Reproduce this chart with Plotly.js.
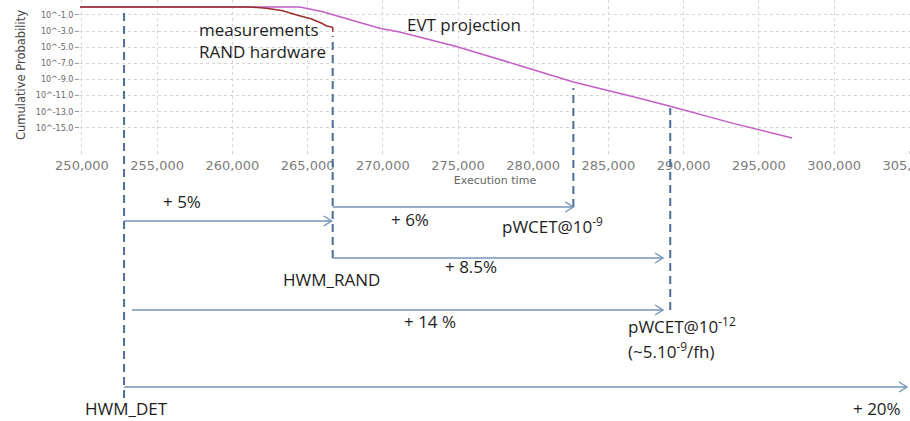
<!DOCTYPE html>
<html><head><meta charset="utf-8">
<script src="https://cdn.plot.ly/plotly-3.0.1.min.js"></script>
<style>html,body{margin:0;padding:0;background:#fff}#chart{width:910px;height:421px}</style>
</head><body><div id="chart"></div>
<script>
// ---- data ----
const measX = [249870, 261150, 262280, 263350, 264280, 265270, 265940, 266270, 266670, 266670];
const measY = [0, 0, -0.17, -0.47, -1.0, -1.5, -2.03, -2.37, -2.53, -3.07];
const evtX = [249870, 264480, 266000, 267800, 269790, 271120, 274900, 279080, 282670, 286590, 289110, 293230, 297210];
const evtY = [0, 0, -0.6, -1.55, -2.65, -3.1, -4.9, -7.25, -9.3, -11.1, -12.3, -14.4, -16.25];
const yTickVals = [-1, -3, -5, -7, -9, -11, -13, -15];
const yTickText = ['10^-1.0', '10^-3.0', '10^-5.0', '10^-7.0', '10^-9.0', '10^-11.0', '10^-13.0', '10^-15.0'];
const markerNames = ['HWM_DET', 'HWM_RAND', 'pWCET@10<sup>-9</sup>', 'pWCET@10<sup>-12</sup>'];
const markerNote = '(~5.10<sup>-9</sup>/fh)';
const markerX = [252800, 266670, 282670, 289110];
const arrowLabels = ['+ 5%', '+ 6%', '+ 8.5%', '+ 14 %', '+ 20%'];
const arrowFrom = [252800, 266670, 266670, 253330, 252800];
const arrowTo = [266600, 282670, 288630, 288630, 304850];

// ---- layout helpers (pixel -> paper) ----
const W = 910, H = 421, L = 80, PW = 830, PH = 150;
const py = p => (H - p) / H;
const px = p => (p - L) / PW;

const dashColor = '#4d6d99', arrowColor = '#7593bb', txtColor = '#1e1e1e';
const lblFont = {family: 'Open Sans, sans-serif', size: 17, color: txtColor};

// vertical dashed marker lines
const markerTopPx = [9, 36, 88, 108];
const markerBotPx = [398, 258, 207, 310];
const shapes = markerX.map((x, i) => ({
  type: 'line', xref: 'x', yref: 'paper', x0: x, x1: x,
  y0: py(markerBotPx[i]), y1: py(markerTopPx[i]),
  line: {color: dashColor, width: 2, dash: '8px,5px'}
}));

// arrows: shaft + open chevron head
const arrowYPx = [221, 207, 258, 310, 387];
arrowFrom.forEach((f, i) => {
  shapes.push({type: 'line', xref: 'x', yref: 'paper', x0: f, x1: arrowTo[i],
    y0: py(arrowYPx[i]), y1: py(arrowYPx[i]), line: {color: arrowColor, width: 1.4}});
  shapes.push({type: 'path', xref: 'x', yref: 'paper', xsizemode: 'pixel', ysizemode: 'pixel',
    xanchor: arrowTo[i], yanchor: py(arrowYPx[i]), path: 'M-8,5L0,0L-8,-5',
    line: {color: arrowColor, width: 1.4}});
});

const annotations = [];
const txt = (x, y, t, anchor) => annotations.push({xref: 'paper', yref: 'paper', x: px(x), y: py(y),
  text: t, showarrow: false, font: lblFont, xanchor: anchor || 'center', yanchor: 'middle', align: 'left'});
// arrow labels
const arrowLblPos = [[182, 201], [410, 220], [471, 266], [430, 321], [877, 408]];
arrowLabels.forEach((t, i) => txt(arrowLblPos[i][0], arrowLblPos[i][1], t));
// marker labels
const markerLblPos = [[126, 408, 'center'], [331, 279, 'center'], [500, 225, 'left'], [626, 325, 'left']];
markerNames.forEach((t, i) => txt(markerLblPos[i][0], markerLblPos[i][1], t, markerLblPos[i][2]));
txt(626, 350, markerNote, 'left');
// curve labels
txt(197, 29, 'measurements', 'left');
txt(197, 52, 'RAND hardware', 'left');
txt(405, 25, 'EVT projection', 'left');

const traces = [
  {x: evtX, y: evtY, type: 'scatter', mode: 'lines', name: 'EVT projection',
   line: {color: '#c45ec8', width: 1.5}, hoverinfo: 'skip'},
  {x: measX, y: measY, type: 'scatter', mode: 'lines', name: 'measurements RAND hardware',
   line: {color: '#9a2e2e', width: 1.5}, hoverinfo: 'skip'}
];

const layout = {
  width: W, height: H,
  margin: {l: L, r: 0, t: 0, b: 0, pad: 0},
  paper_bgcolor: '#ffffff', plot_bgcolor: '#ffffff',
  showlegend: false,
  xaxis: {
    range: [249870, 305050], domain: [0, 1],
    tick0: 250000, dtick: 5000, tickformat: ',d', ticklabeloverflow: 'allow',
    showgrid: true, gridcolor: '#d6d6d6', griddash: 'dot', gridwidth: 1,
    zeroline: false, showline: false,
    ticks: 'outside', ticklen: 3, tickcolor: '#cfcfcf',
    tickfont: {family: 'DejaVu Sans, sans-serif', size: 13, color: '#7c7c7c'},
    title: {text: 'Execution time', font: {family: 'DejaVu Sans, sans-serif', size: 11, color: '#666'}, standoff: 4},
    automargin: false
  },
  yaxis: {
    range: [-17.73, 0.855], domain: [1 - PH / H, 1],
    tickvals: yTickVals, ticktext: yTickText,
    showgrid: true, gridcolor: '#d6d6d6', griddash: 'dot', gridwidth: 1,
    zeroline: false, showline: false,
    ticks: 'outside', ticklen: 4, tickcolor: '#999',
    tickfont: {family: 'DejaVu Sans, sans-serif', size: 8, color: '#666'},
    title: {text: 'Cumulative Probability', font: {family: 'DejaVu Sans, sans-serif', size: 11.5, color: '#444'}, standoff: 7},
    automargin: false
  },
  shapes: shapes,
  annotations: annotations
};

Plotly.newPlot('chart', traces, layout, {displayModeBar: false, staticPlot: true});
</script>
</body></html>
